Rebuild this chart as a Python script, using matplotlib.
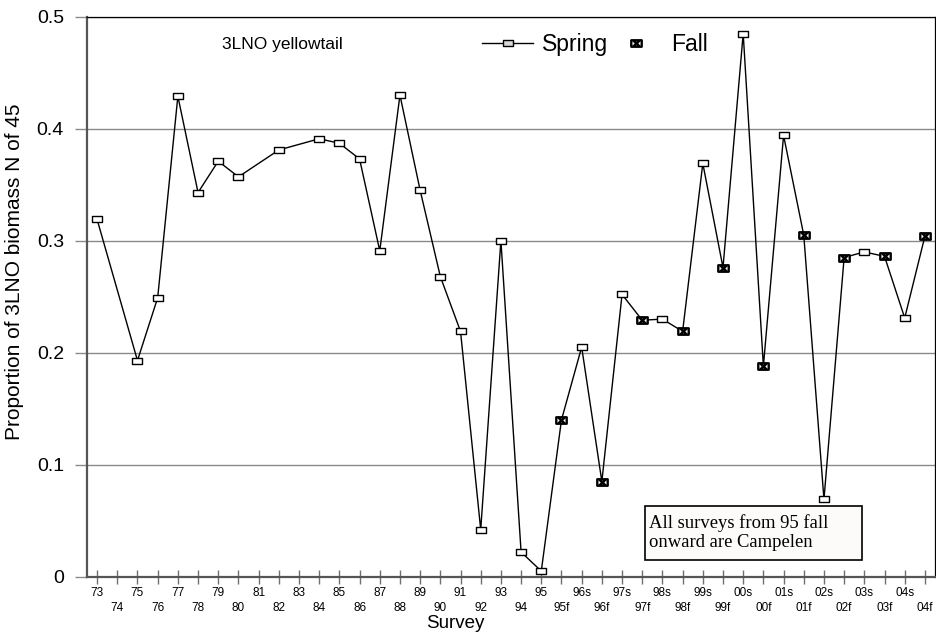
import numpy as np
import matplotlib
matplotlib.use("Agg")
import matplotlib.pyplot as plt
from matplotlib.path import Path
from matplotlib.lines import Line2D
from matplotlib.patches import Rectangle

plt.rcParams['font.family'] = ['Liberation Sans', 'DejaVu Sans']

# survey labels (73..95 spring only, then spring/fall pairs)
surveys = ['73', '74', '75', '76', '77', '78', '79', '80', '81', '82', '83', '84',
           '85', '86', '87', '88', '89', '90', '91', '92', '93', '94', '95',
           '95f', '96s', '96f', '97s', '97f', '98s', '98f', '99s', '99f',
           '00s', '00f', '01s', '01f', '02s', '02f', '03s', '03f', '04s', '04f']
# proportion of 3LNO biomass north of 45 (nan = no survey)
proportion = [0.319, np.nan, 0.193, 0.249, 0.429, 0.343, 0.371, 0.357, np.nan, 0.381,
              np.nan, 0.391, 0.387, 0.373, 0.291, 0.430, 0.345, 0.268, 0.219, 0.042,
              0.300, 0.022, 0.005,
              0.140, 0.205, 0.085, 0.252, 0.229, 0.230, 0.219, 0.369, 0.276,
              0.485, 0.188, 0.394, 0.305, 0.069, 0.285, 0.290, 0.286, 0.231, 0.304]
fall = [s.endswith('f') for s in surveys]

x = np.arange(len(surveys))
y = np.array(proportion)
ok = ~np.isnan(y)
fall = np.array(fall)

# markers: flat rectangle, and rectangle with a cross for fall
rect = Path([(-1, -0.62), (1, -0.62), (1, 0.62), (-1, 0.62), (-1, -0.62)],
            [Path.MOVETO, Path.LINETO, Path.LINETO, Path.LINETO, Path.CLOSEPOLY])
xbox = Path([(-1, -0.62), (1, -0.62), (1, 0.62), (-1, 0.62), (-1, -0.62),
             (-0.55, -0.5), (0.55, 0.5), (-0.55, 0.5), (0.55, -0.5)],
            [Path.MOVETO, Path.LINETO, Path.LINETO, Path.LINETO, Path.CLOSEPOLY,
             Path.MOVETO, Path.LINETO, Path.MOVETO, Path.LINETO])

fig = plt.figure(figsize=(9.36, 6.38), dpi=100)
ax = fig.add_axes([87/936, 1 - 576.7/638, 848/936, 560/638])

ax.plot(x[ok], y[ok], color='black', lw=1.0, zorder=3)
sp = ok & ~fall
ax.plot(x[sp], y[sp], ls='none', marker=rect, ms=7.5, mfc='white', mec='black',
        mew=1.0, zorder=4)
ax.plot(x[fall], y[fall], ls='none', marker=xbox, ms=7.5, mfc='white', mec='black',
        mew=1.7, zorder=4)

ax.set_xlim(-0.5, len(surveys) - 0.5)
ax.set_ylim(0, 0.5)
ax.set_yticks([0, 0.1, 0.2, 0.3, 0.4, 0.5])
ax.set_yticklabels(['0', '0.1', '0.2', '0.3', '0.4', '0.5'], fontsize=14)
ax.yaxis.grid(True, color='#8a8a8a', lw=1.0)
ax.set_axisbelow(True)
ax.tick_params(axis='y', length=8.6, width=1.0, color='#8a8a8a', pad=8, direction='out')

ax.set_xticks(x)
ax.set_xticklabels([s if i % 2 == 0 else '\n' + s for i, s in enumerate(surveys)],
                   fontsize=8.5, linespacing=1.35)
ax.tick_params(axis='x', length=10, width=1.0, color='#707070', direction='inout', pad=2.5)

for side in ['left', 'bottom']:
    ax.spines[side].set_color('#555555')
    ax.spines[side].set_linewidth(1.6)
for side in ['top', 'right']:
    ax.spines[side].set_color('black')
    ax.spines[side].set_linewidth(0.9)

ax.set_xlabel('Survey', fontsize=13.5)
ax.xaxis.set_label_coords(0.434, -0.068)
ax.set_ylabel('Proportion of 3LNO biomass N of 45', fontsize=15)
ax.yaxis.set_label_coords(-0.074, 0.545)

ax.text(0.159, 0.951, '3LNO yellowtail', transform=ax.transAxes, fontsize=12.5,
        ha='left', va='center')

handles = [Line2D([], [], color='black', lw=1.0, marker=rect, ms=7.5, mfc='#d8d8d8',
                  mec='black', mew=1.0),
           Line2D([], [], ls='none', marker=xbox, ms=7.5, mfc='white', mec='black',
                  mew=1.7)]
ax.legend(handles, ['Spring', 'Fall'], ncol=2, frameon=False, fontsize=16.5,
          loc='center left', bbox_to_anchor=(0.4658, 0.951), borderaxespad=0,
          borderpad=0, handlelength=2.23, handletextpad=0.4, columnspacing=0.1)

ax.add_patch(Rectangle((0.658, 0.03), 0.256, 0.0965, transform=ax.transAxes,
                       facecolor='#fcfbf9', edgecolor='black', lw=1.2, zorder=5))
ax.text(0.663, 0.079, 'All surveys from 95 fall\nonward are Campelen',
        transform=ax.transAxes, fontsize=13.4, family='Liberation Serif',
        ha='left', va='center', linespacing=1.15, zorder=6)

fig.savefig('out.png', dpi=100)
